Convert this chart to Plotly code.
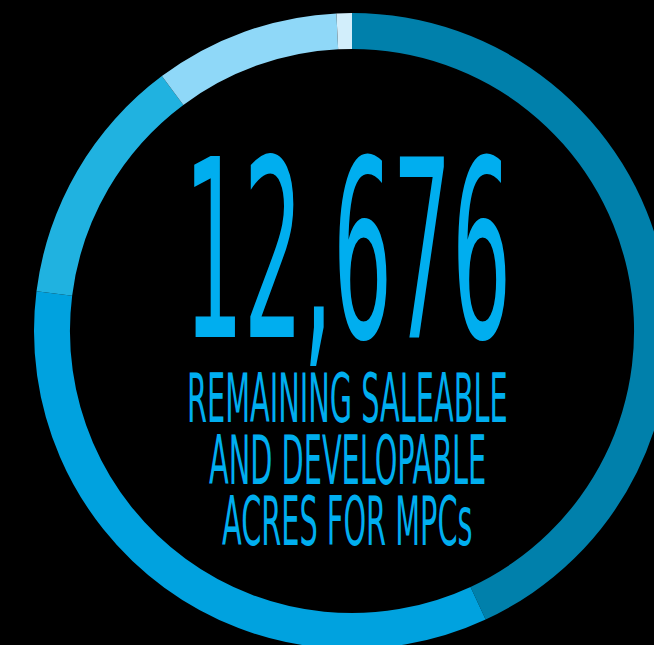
import plotly.graph_objects as go

# acres remaining per segment, clockwise from 12 o'clock
segments = ["MPC 1", "MPC 2", "MPC 3", "MPC 4", "MPC 5"]
acres = [5463, 4297, 1623, 1194, 99]
colors = ["#0080AB", "#00A2DF", "#20B2E0", "#8FD8F8", "#D2EEFB"]

headline = "12,676"
caption_lines = ["REMAINING SALEABLE", "AND DEVELOPABLE", "ACRES FOR MPCs"]

TEXT_COLOR = "#00AEEF"
FONT = "DejaVu Sans Condensed, Liberation Sans Narrow, sans-serif"

# canvas is a bit larger than the window so the ring is cropped right/bottom
W, H = 704, 662
CX, CY, R = 352, 331, 318

fig = go.Figure(go.Pie(
    labels=segments,
    values=acres,
    hole=0.887,
    sort=False,
    direction="clockwise",
    rotation=0,
    marker=dict(colors=colors, line=dict(width=0)),
    textinfo="none",
    hovertemplate="%{label}: %{value:,} acres<extra></extra>",
    domain=dict(x=[(CX - R) / W, (CX + R) / W],
                y=[(H - CY - R) / H, (H - CY + R) / H]),
    showlegend=False,
))

annotations = [dict(
    text=headline, x=347 / W, y=1 - 250.5 / H, xref="paper", yref="paper",
    xanchor="center", yanchor="middle", showarrow=False,
    font=dict(family=FONT, size=104, color=TEXT_COLOR),
)]
for line, ypx in zip(caption_lines, [398, 460, 521]):
    annotations.append(dict(
        text=line, x=347 / W, y=1 - ypx / H, xref="paper", yref="paper",
        xanchor="center", yanchor="middle", showarrow=False,
        font=dict(family=FONT, size=32, color=TEXT_COLOR),
    ))

fig.update_layout(
    width=W,
    height=H,
    autosize=False,
    paper_bgcolor="#000000",
    plot_bgcolor="#000000",
    margin=dict(l=0, r=0, t=0, b=0),
    annotations=annotations,
)

# stretch the type vertically to mimic the tall condensed display face
post = """
document.body.style.margin = '0';
document.body.style.overflow = 'hidden';
document.body.style.background = '#000';
var gd = document.getElementById('{plot_id}');
var SY = [2.38, 2.14, 2.14, 2.14];
gd.querySelectorAll('.annotation-text').forEach(function (t, i) {
  var s = SY[i] || 2.2;
  var b = t.getBBox();
  var cy = b.y + b.height / 2;
  t.setAttribute('transform', 'matrix(1,0,0,' + s + ',0,' + (cy * (1 - s)) + ')');
});
"""

fig.write_html("out.html", post_script=post, config={"displayModeBar": False})
